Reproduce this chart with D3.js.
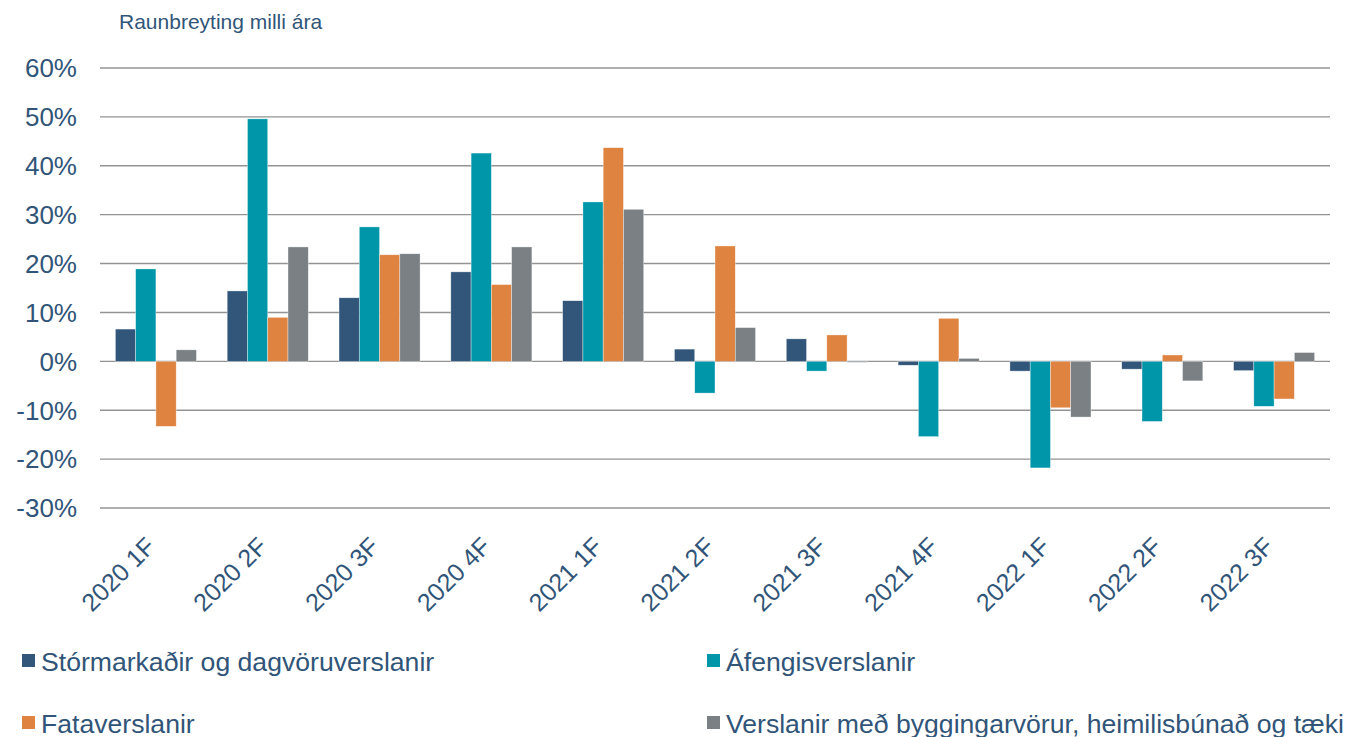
<!DOCTYPE html>
<html>
<head>
<meta charset="utf-8">
<script src="https://cdn.jsdelivr.net/npm/d3@7"></script>
<style>
  body { margin: 0; background: #fff; }
  text { font-family: "Liberation Sans", Arial, sans-serif; }
</style>
</head>
<body>
<svg id="chart" width="1348" height="737"></svg>
<script>
// categories and series (real change between years)
var quarters = ["2020 1F", "2020 2F", "2020 3F", "2020 4F", "2021 1F", "2021 2F",
                "2021 3F", "2021 4F", "2022 1F", "2022 2F", "2022 3F"];
var seriesNames = ["Stórmarkaðir og dagvöruverslanir", "Áfengisverslanir",
                   "Fataverslanir", "Verslanir með byggingarvörur, heimilisbúnað og tæki"];
var storm = [6.6, 14.4, 13.0, 18.3, 12.4, 2.5, 4.6, -0.8, -2.0, -1.6, -1.9];
var afengi = [18.9, 49.6, 27.5, 42.6, 32.6, -6.5, -2.0, -15.4, -21.8, -12.3, -9.2];
var fata = [-13.3, 9.0, 21.8, 15.7, 43.7, 23.6, 5.4, 8.8, -9.5, 1.3, -7.7];
var bygg = [2.35, 23.4, 22.0, 23.4, 31.1, 6.9, -0.2, 0.6, -11.4, -4.0, 1.8];
var yTicks = [-30, -20, -10, 0, 10, 20, 30, 40, 50, 60];
var colors = ["#31567a", "#0096a9", "#df8341", "#7a8083"];
var textColor = "#315578";

var seriesData = [storm, afengi, fata, bygg];

var svg = d3.select("#chart");
var margin = {top: 68, right: 18, bottom: 229, left: 100};
var width = +svg.attr("width"), height = +svg.attr("height");

var x0 = d3.scaleBand()
    .domain(quarters)
    .range([margin.left, width - margin.right])
    .paddingInner(0.275)
    .paddingOuter(0.1375);

var x1 = d3.scaleBand()
    .domain(d3.range(seriesNames.length))
    .range([0, x0.bandwidth()]);

var y = d3.scaleLinear()
    .domain([-30, 60])
    .range([height - margin.bottom, margin.top]);

// title
svg.append("text")
    .attr("x", 119)
    .attr("y", 29)
    .attr("fill", textColor)
    .style("font-size", "21px")
    .text("Raunbreyting milli ára");

// gridlines
svg.append("g")
    .selectAll("line")
    .data(yTicks)
    .join("line")
    .attr("x1", margin.left)
    .attr("x2", width - margin.right)
    .attr("y1", d => y(d))
    .attr("y2", d => y(d))
    .attr("stroke", "#939393")
    .attr("stroke-width", 1.4);

// y labels
svg.append("g")
    .selectAll("text")
    .data(yTicks)
    .join("text")
    .attr("x", 77)
    .attr("y", d => y(d))
    .attr("dy", "0.36em")
    .attr("text-anchor", "end")
    .attr("fill", textColor)
    .style("font-size", "26px")
    .text(d => d + "%");

// bars
var groups = svg.append("g")
    .selectAll("g")
    .data(quarters)
    .join("g")
    .attr("transform", d => "translate(" + x0(d) + ",0)");

groups.selectAll("rect")
    .data((d, i) => seriesData.map((s, k) => ({k: k, v: s[i]})))
    .join("rect")
    .attr("x", d => x1(d.k))
    .attr("width", x1.bandwidth())
    .attr("y", d => y(Math.max(0, d.v)))
    .attr("height", d => Math.abs(y(d.v) - y(0)))
    .attr("fill", d => colors[d.k])
    .attr("stroke", "#ffffff")
    .attr("stroke-opacity", 0.6)
    .attr("stroke-width", 0.6);

// x labels
svg.append("g")
    .selectAll("text")
    .data(quarters)
    .join("text")
    .attr("transform", d => "translate(" + (x0(d) + x0.bandwidth() / 2 + 1) + "," + (y(-30) + 40) + ") rotate(-45)")
    .attr("text-anchor", "end")
    .attr("fill", textColor)
    .style("font-size", "25px")
    .text(d => d);

// legend
var legendPos = [[22, 661], [707, 661], [22, 723], [707, 723]];
var legend = svg.append("g")
    .selectAll("g")
    .data(seriesNames)
    .join("g")
    .attr("transform", (d, i) => "translate(" + legendPos[i][0] + "," + legendPos[i][1] + ")");

legend.append("rect")
    .attr("x", 0)
    .attr("y", -7)
    .attr("width", 13)
    .attr("height", 13)
    .attr("fill", (d, i) => colors[i]);

legend.append("text")
    .attr("x", 19)
    .attr("y", 0)
    .attr("dy", "0.36em")
    .attr("fill", textColor)
    .style("font-size", "26.6px")
    .text(d => d);
</script>
</body>
</html>
